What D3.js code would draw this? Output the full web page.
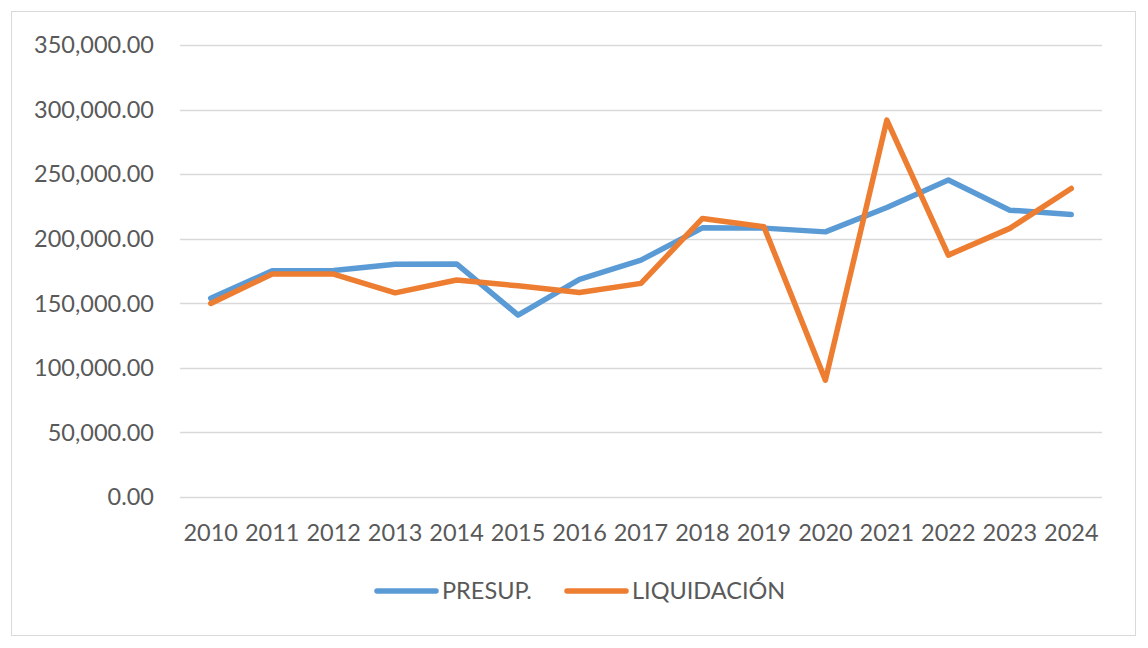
<!DOCTYPE html>
<html>
<head>
<meta charset="utf-8">
<script src="https://cdn.jsdelivr.net/npm/d3@7"></script>
<style>
  body { margin: 0; background: #fff; }
  text { font-family: Lato, "Open Sans", sans-serif; fill: #595959; }
</style>
</head>
<body>
<svg id="main_svg" width="1148" height="648"></svg>
<script>
// data
const years = ['2010', '2011', '2012', '2013', '2014', '2015', '2016', '2017',
  '2018', '2019', '2020', '2021', '2022', '2023', '2024'];
const presup = [153800, 175200, 175400, 180300, 180500, 140900, 168500, 183400,
  208400, 208200, 205300, 224200, 245400, 222100, 218800];
const liquidacion = [149900, 172600, 172600, 158100, 168000, 163500, 158400, 165400,
  215700, 209200, 90500, 291800, 187300, 208000, 238900];
const yTicks = [0, 50000, 100000, 150000, 200000, 250000, 300000, 350000];

const seriesNames = ['PRESUP.', 'LIQUIDACIÓN'];
const seriesColors = ['#5B9BD5', '#ED7D31'];

const svg = d3.select('#main_svg');

// chart area border
svg.append('rect')
  .attr('x', 11.5).attr('y', 11.5)
  .attr('width', 1124).attr('height', 624)
  .attr('fill', '#fff')
  .attr('stroke', '#D9D9D9')
  .attr('stroke-width', 1);

const x = d3.scaleBand().domain(years).range([180, 1102]);
const y = d3.scaleLinear().domain([0, 350000]).range([497, 45]);

// gridlines
svg.append('g')
  .selectAll('line')
  .data(yTicks)
  .join('line')
  .attr('x1', 180).attr('x2', 1102)
  .attr('y1', d => Math.round(y(d)) + 0.5)
  .attr('y2', d => Math.round(y(d)) + 0.5)
  .attr('stroke', '#D9D9D9')
  .attr('stroke-width', 1.5);

// y labels
const fmt = d3.format(',.2f');
svg.append('g')
  .selectAll('text')
  .data(yTicks)
  .join('text')
  .attr('x', 154)
  .attr('y', d => y(d))
  .attr('dy', '0.35em')
  .attr('text-anchor', 'end')
  .style('font-size', '23.5px')
  .text(d => fmt(d));

// x labels
svg.append('g')
  .selectAll('text')
  .data(years)
  .join('text')
  .attr('x', d => x(d) + x.bandwidth() / 2)
  .attr('y', 541)
  .attr('text-anchor', 'middle')
  .style('font-size', '23.5px')
  .text(d => d);

// lines
const line = d3.line()
  .x((d, i) => x(years[i]) + x.bandwidth() / 2)
  .y(d => y(d));

[presup, liquidacion].forEach(function(vals, i) {
  svg.append('path')
    .datum(vals)
    .attr('d', line)
    .attr('fill', 'none')
    .attr('stroke', seriesColors[i])
    .attr('stroke-width', 5.5)
    .attr('stroke-linejoin', 'round')
    .attr('stroke-linecap', 'round');
});

// legend
const legendX = [377, 567];
const legend = svg.append('g');
seriesNames.forEach(function(name, i) {
  legend.append('line')
    .attr('x1', legendX[i]).attr('x2', legendX[i] + 59)
    .attr('y1', 591).attr('y2', 591)
    .attr('stroke', seriesColors[i])
    .attr('stroke-width', 5.5)
    .attr('stroke-linecap', 'round');
  legend.append('text')
    .attr('x', legendX[i] + 65)
    .attr('y', 591)
    .attr('dy', '0.35em')
    .style('font-size', '23.5px')
    .text(name);
});
</script>
</body>
</html>
